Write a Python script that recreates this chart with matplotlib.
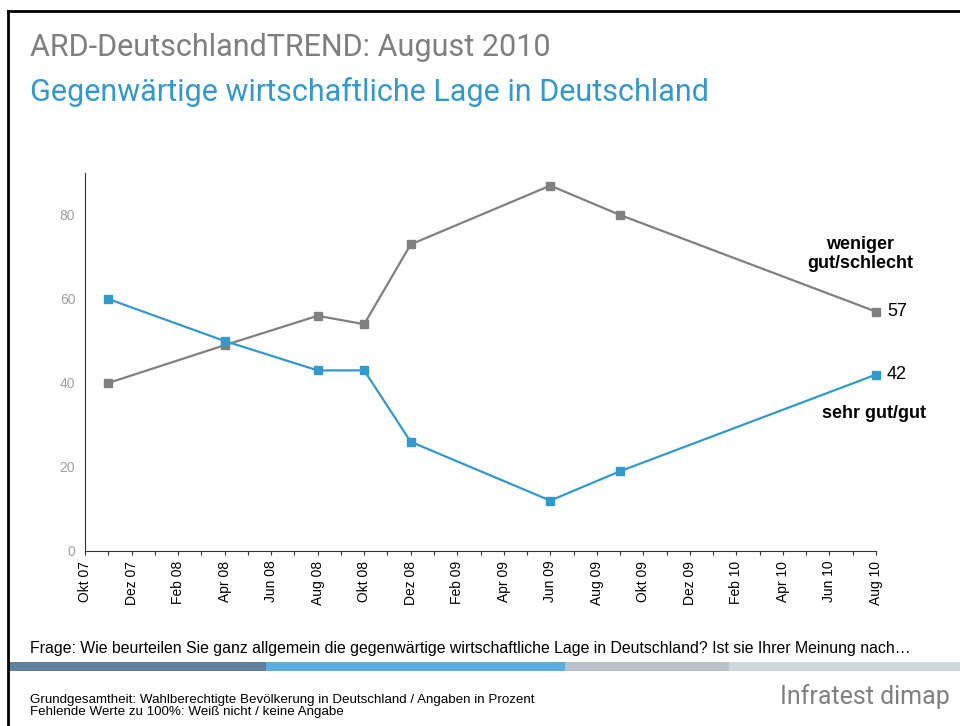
import matplotlib.pyplot as plt
from matplotlib.patches import Polygon
from matplotlib.lines import Line2D

#####################################
# Data (month index 0 = Okt 07)
#####################################
months = ['Okt 07', 'Nov 07', 'Dez 07', 'Jan 08', 'Feb 08', 'Mrz 08', 'Apr 08', 'Mai 08',
          'Jun 08', 'Jul 08', 'Aug 08', 'Sep 08', 'Okt 08', 'Nov 08', 'Dez 08', 'Jan 09',
          'Feb 09', 'Mrz 09', 'Apr 09', 'Mai 09', 'Jun 09', 'Jul 09', 'Aug 09', 'Sep 09',
          'Okt 09', 'Nov 09', 'Dez 09', 'Jan 10', 'Feb 10', 'Mrz 10', 'Apr 10', 'Mai 10',
          'Jun 10', 'Jul 10', 'Aug 10']
survey_months = ['Nov 07', 'Apr 08', 'Aug 08', 'Okt 08', 'Dez 08', 'Jun 09', 'Sep 09', 'Aug 10']
schlecht = [40, 49, 56, 54, 73, 87, 80, 57]
gut = [60, 50, 43, 43, 26, 12, 19, 42]
yticks = [0, 20, 40, 60, 80]

x = [months.index(m) for m in survey_months]

GRAY = '#808080'
BLUE = '#3399cc'

fig = plt.figure(figsize=(9.6, 7.26), dpi=100)
ax = fig.add_axes([85 / 960, 1 - 551 / 726, (876 - 85) / 960, (551 - 173) / 726])

ax.plot(x, schlecht, color=GRAY, lw=1.6, marker='s', ms=5.5, zorder=3, clip_on=False)
ax.plot(x, gut, color=BLUE, lw=1.6, marker='s', ms=5.5, zorder=3, clip_on=False)

ax.set_xlim(0, len(months) - 1)
ax.set_ylim(0, 90)
ax.set_xticks(range(0, len(months), 2))
ax.set_xticklabels(months[::2], rotation=90, fontsize=10, family='Liberation Sans')
ax.set_xticks(range(len(months)), minor=True)
ax.tick_params(axis='x', which='both', direction='out', length=3, width=0.8, color='#333333', pad=4)
ax.set_yticks(yticks)
ax.set_yticklabels([str(v) for v in yticks], fontsize=10, color='#a0a0a0', family='Liberation Sans')
ax.tick_params(axis='y', length=0, pad=7)
for s in ['top', 'right']:
    ax.spines[s].set_visible(False)
ax.spines['left'].set_color('#333333')
ax.spines['bottom'].set_color('#333333')

# end labels
ax.annotate(str(schlecht[-1]), (x[-1], schlecht[-1]), xytext=(8, 0), textcoords='offset points',
            va='center', fontsize=13, family='Liberation Sans')
ax.annotate(str(gut[-1]), (x[-1], gut[-1]), xytext=(8, 0), textcoords='offset points',
            va='center', fontsize=13, family='Liberation Sans')
fig.text(860 / 960, 1 - 254 / 726, 'weniger\ngut/schlecht', ha='center', va='center',
         fontsize=13, fontweight='bold', family='Liberation Sans', linespacing=1.1)
fig.text(874 / 960, 1 - 413 / 726, 'sehr gut/gut', ha='center', va='center',
         fontsize=13, fontweight='bold', family='Liberation Sans')

# titles
fig.text(30 / 960, 1 - 48 / 726, 'ARD-DeutschlandTREND: August 2010', fontsize=22,
         color='#7f7f7f', family='Roboto', va='center')
fig.text(30 / 960, 1 - 92 / 726, 'Gegenwärtige wirtschaftliche Lage in Deutschland', fontsize=22,
         color=BLUE, family='Roboto', va='center')

# footer
fig.text(30 / 960, 1 - 649 / 726,
         'Frage: Wie beurteilen Sie ganz allgemein die gegenwärtige wirtschaftliche Lage in Deutschland? Ist sie Ihrer Meinung nach\u2026',
         fontsize=11.4, family='Liberation Sans', va='center')
fig.text(30 / 960, 1 - 706 / 726,
         'Grundgesamtheit: Wahlberechtigte Bevölkerung in Deutschland / Angaben in Prozent\nFehlende Werte zu 100%: Weiß nicht / keine Angabe',
         fontsize=9.6, family='Liberation Sans', va='center', linespacing=0.95)
fig.text(950 / 960, 1 - 697 / 726, 'Infratest dimap', fontsize=18, color='#808080',
         family='Roboto', ha='right', va='center')

# colour band
y0, y1 = 1 - 671 / 726, 1 - 662 / 726
band = [((8, 270, 266), '#61809a'), ((266, 567, 565), '#5aafe0'),
        ((565, 733, 729), '#b9c1ca'), ((729, 960, 960), '#ccd7de')]
for (a, b_top, b_bot), c in band:
    fig.patches.append(Polygon([(a / 960, y0), (b_bot / 960, y0), (b_top / 960, y1), (a / 960, y1)],
                               closed=True, facecolor=c, edgecolor='none', transform=fig.transFigure))

# frame
fig.lines.append(Line2D([8 / 960, 8 / 960], [0, 1 - 11 / 726], color='black', lw=2, transform=fig.transFigure))
fig.lines.append(Line2D([8 / 960, 1], [1 - 11 / 726, 1 - 11 / 726], color='black', lw=2, transform=fig.transFigure))

fig.savefig('out.png', dpi=100)
